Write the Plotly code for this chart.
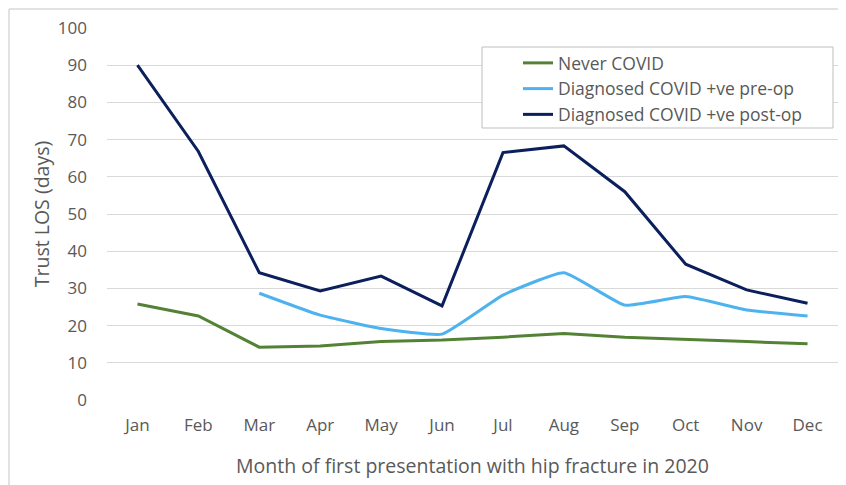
import plotly.graph_objects as go

months = ["Jan", "Feb", "Mar", "Apr", "May", "Jun", "Jul", "Aug", "Sep", "Oct", "Nov", "Dec"]
never_covid = [25.8, 22.6, 14.2, 14.5, 15.7, 16.1, 16.9, 17.9, 16.9, 16.4, 15.7, 15.1]
covid_pre_op = [None, None, 28.7, 22.8, 19.2, 17.7, 28.2, 34.2, 25.5, 27.8, 24.2, 22.6]
covid_post_op = [90, 66.8, 34.2, 29.3, 33.3, 25.3, 66.5, 68.3, 56.0, 36.5, 29.6, 26.0]

# page body has an 8px margin, so the figure is a bit smaller than the window
OFF = 8
W, H = 838, 477
L, R, T, B = 99, 8, 20, 85
pw, ph = W - L - R, H - T - B


def px_x(x):
    # x in screen pixels -> paper coordinate
    return (x - OFF - L) / pw


def px_y(y):
    return (H - B - (y - OFF)) / ph


font = "'Open Sans', sans-serif"
grey = "#595959"

fig = go.Figure()
fig.add_trace(go.Scatter(x=months, y=never_covid, mode="lines", name="Never COVID",
                         line=dict(color="#548235", width=3)))
fig.add_trace(go.Scatter(x=months, y=covid_pre_op, mode="lines", name="Diagnosed COVID +ve pre-op",
                         line=dict(color="#4DB2EE", width=3, shape="spline", smoothing=0.4)))
fig.add_trace(go.Scatter(x=months, y=covid_post_op, mode="lines", name="Diagnosed COVID +ve post-op",
                         line=dict(color="#0B1F5C", width=3)))

# outer chart border (Excel style)
fig.add_shape(type="line", xref="paper", yref="paper", x0=px_x(9), x1=px_x(9), y0=px_y(9), y1=px_y(500),
              line=dict(color="#d9d9d9", width=1.5))
fig.add_shape(type="line", xref="paper", yref="paper", x0=px_x(9), x1=px_x(870), y0=px_y(9), y1=px_y(9),
              line=dict(color="#d9d9d9", width=1.5))
# legend box
fig.add_shape(type="rect", xref="paper", yref="paper", x0=px_x(482), x1=px_x(833), y0=px_y(128), y1=px_y(47),
              line=dict(color="#bfbfbf", width=1), fillcolor="white", layer="above")

fig.update_layout(
    width=W, height=H,
    margin=dict(l=L, r=R, t=T, b=B, autoexpand=False),
    paper_bgcolor="white", plot_bgcolor="white",
    font=dict(family=font, size=16, color=grey),
    showlegend=True,
    legend=dict(x=px_x(518), y=px_y(45), xanchor="left", yanchor="top",
                borderwidth=0, bgcolor="rgba(0,0,0,0)",
                font=dict(size=17.5, color=grey), tracegroupgap=0),
    xaxis=dict(type="category", range=[-0.5, 11.5], showgrid=False, zeroline=False, showline=False,
               ticks="", tickfont=dict(size=17, color=grey), automargin=False, ticklabelstandoff=13,
               title=dict(text="Month of first presentation with hip fracture in 2020",
                          font=dict(size=19.5, color=grey), standoff=24)),
    yaxis=dict(range=[0, 100], dtick=10, showgrid=True, gridcolor="#d9d9d9", gridwidth=1,
               zeroline=False, showline=False, ticks="", tickfont=dict(size=17, color=grey),
               automargin=False, ticklabelstandoff=19,
               title=dict(text="Trust LOS (days)", font=dict(size=19.5, color=grey), standoff=3)),
)

fig.write_html("out.html")
